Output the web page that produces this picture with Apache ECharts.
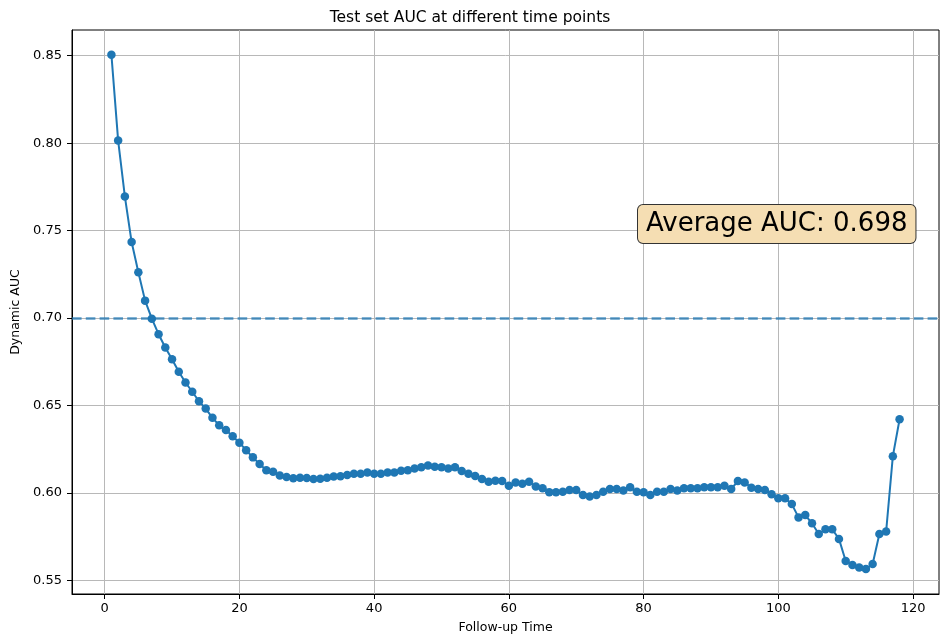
<!DOCTYPE html>
<html>
<head>
<meta charset="utf-8">
<script src="https://cdn.jsdelivr.net/npm/echarts@6/dist/echarts.min.js"></script>
<style>
  html, body { margin: 0; padding: 0; background: #ffffff; }
  #chart { width: 940px; height: 639px; }
</style>
</head>
<body>
<div id="chart"></div>
<script>
// Follow-up time points (1..118)
const followUpTime = [
  1, 2, 3, 4, 5, 6, 7, 8, 9, 10, 11, 12, 13, 14, 15, 16, 17, 18, 19, 20,
  21, 22, 23, 24, 25, 26, 27, 28, 29, 30, 31, 32, 33, 34, 35, 36, 37, 38, 39, 40,
  41, 42, 43, 44, 45, 46, 47, 48, 49, 50, 51, 52, 53, 54, 55, 56, 57, 58, 59, 60,
  61, 62, 63, 64, 65, 66, 67, 68, 69, 70, 71, 72, 73, 74, 75, 76, 77, 78, 79, 80,
  81, 82, 83, 84, 85, 86, 87, 88, 89, 90, 91, 92, 93, 94, 95, 96, 97, 98, 99, 100,
  101, 102, 103, 104, 105, 106, 107, 108, 109, 110, 111, 112, 113, 114, 115, 116, 117, 118
];

// Dynamic AUC at each time point
const dynamicAuc = [
  0.8506, 0.8015, 0.7695, 0.7435, 0.7262, 0.7100, 0.6997, 0.6908, 0.6832, 0.6765,
  0.6693, 0.6632, 0.6579, 0.6525, 0.6483, 0.6430, 0.6388, 0.6360, 0.6325, 0.6288,
  0.6245, 0.6204, 0.6166, 0.6131, 0.6122, 0.6100, 0.6092, 0.6084, 0.6088, 0.6086,
  0.6080, 0.6082, 0.6088, 0.6094, 0.6096, 0.6103, 0.6111, 0.6110, 0.6118, 0.6110,
  0.6110, 0.6118, 0.6118, 0.6128, 0.6131, 0.6141, 0.6148, 0.6158, 0.6150, 0.6148,
  0.6141, 0.6148, 0.6126, 0.6110, 0.6098, 0.6080, 0.6065, 0.6071, 0.6069, 0.6042,
  0.6061, 0.6053, 0.6065, 0.6037, 0.6027, 0.6004, 0.6004, 0.6008, 0.6017, 0.6017,
  0.5989, 0.5980, 0.5989, 0.6008, 0.6023, 0.6023, 0.6014, 0.6033, 0.6008, 0.6004,
  0.5989, 0.6008, 0.6008, 0.6023, 0.6014, 0.6027, 0.6027, 0.6027, 0.6033, 0.6033,
  0.6033, 0.6042, 0.6023, 0.6069, 0.6061, 0.6031, 0.6023, 0.6017, 0.5993, 0.5970,
  0.5970, 0.5937, 0.5861, 0.5874, 0.5827, 0.5766, 0.5793, 0.5793, 0.5738, 0.5612,
  0.5589, 0.5574, 0.5566, 0.5595, 0.5766, 0.5780, 0.6211, 0.6422
];

// Mean AUC over all time points, drawn as a dashed reference line
const averageAuc = 0.698;

// Tick values
const xTicks = [0, 20, 40, 60, 80, 100, 120];
const yTicks = [0.55, 0.60, 0.65, 0.70, 0.75, 0.80, 0.85];

const FONT = 'DejaVu Sans';
const seriesColor = '#1f77b4';

const chart = echarts.init(document.getElementById('chart'), null, { renderer: 'canvas' });

const points = followUpTime.map((t, i) => [t, dynamicAuc[i]]);

chart.setOption({
  animation: false,
  backgroundColor: '#ffffff',
  textStyle: { fontFamily: FONT },
  title: {
    text: 'Test set AUC at different time points',
    left: 'center',
    top: 5,
    textStyle: { fontFamily: FONT, fontSize: 15.5, fontWeight: 'normal', color: '#000' }
  },
  grid: {
    left: 72, right: 1, top: 30, bottom: 43,
    show: true, borderColor: '#000', borderWidth: 1, backgroundColor: 'transparent'
  },
  xAxis: {
    type: 'value',
    min: -4.85, max: 123.85,
    name: 'Follow-up Time',
    nameLocation: 'middle',
    nameGap: 27,
    nameTextStyle: { fontFamily: FONT, fontSize: 12.5, color: '#000' },
    axisLine: { show: true, onZero: false, lineStyle: { color: '#000', width: 1 } },
    axisTick: { show: true, inside: false, customValues: xTicks, length: 5, lineStyle: { color: '#000' } },
    axisLabel: {
      customValues: xTicks, fontFamily: FONT, fontSize: 13, color: '#000', margin: 8,
      formatter: v => String(v)
    },
    splitLine: { show: true, lineStyle: { color: '#b8b8b8', width: 1 } }
  },
  yAxis: {
    type: 'value',
    min: 0.5423, max: 0.8647,
    name: 'Dynamic AUC',
    nameLocation: 'middle',
    nameGap: 48,
    nameTextStyle: { fontFamily: FONT, fontSize: 12.5, color: '#000' },
    axisLine: { show: true, onZero: false, lineStyle: { color: '#000', width: 1 } },
    axisTick: { show: true, inside: false, customValues: yTicks, length: 5, lineStyle: { color: '#000' } },
    axisLabel: {
      customValues: yTicks, fontFamily: FONT, fontSize: 13, color: '#000', margin: 10,
      formatter: v => v.toFixed(2)
    },
    splitLine: { show: true, lineStyle: { color: '#b8b8b8', width: 1 } }
  },
  series: [
    {
      name: 'Dynamic AUC',
      type: 'line',
      data: points,
      symbol: 'circle',
      symbolSize: 8.5,
      showSymbol: true,
      itemStyle: { color: seriesColor },
      lineStyle: { color: seriesColor, width: 2 },
      z: 3,
      markLine: {
        silent: true,
        symbol: ['none', 'none'],
        label: { show: false },
        lineStyle: { color: seriesColor, opacity: 0.75, width: 2.6, type: [9.6, 4.2] },
        data: [{ yAxis: averageAuc }]
      }
    }
  ],
  graphic: [
    {
      type: 'text',
      left: 637,
      top: 204,
      z: 10,
      style: {
        text: 'Average AUC: ' + averageAuc.toFixed(3),
        fontFamily: FONT,
        fontSize: 26,
        fill: '#000',
        backgroundColor: '#f5deb3',
        borderColor: '#333',
        borderWidth: 1,
        borderRadius: 5,
        padding: [6, 8, 6, 8]
      }
    }
  ]
});
</script>
</body>
</html>
